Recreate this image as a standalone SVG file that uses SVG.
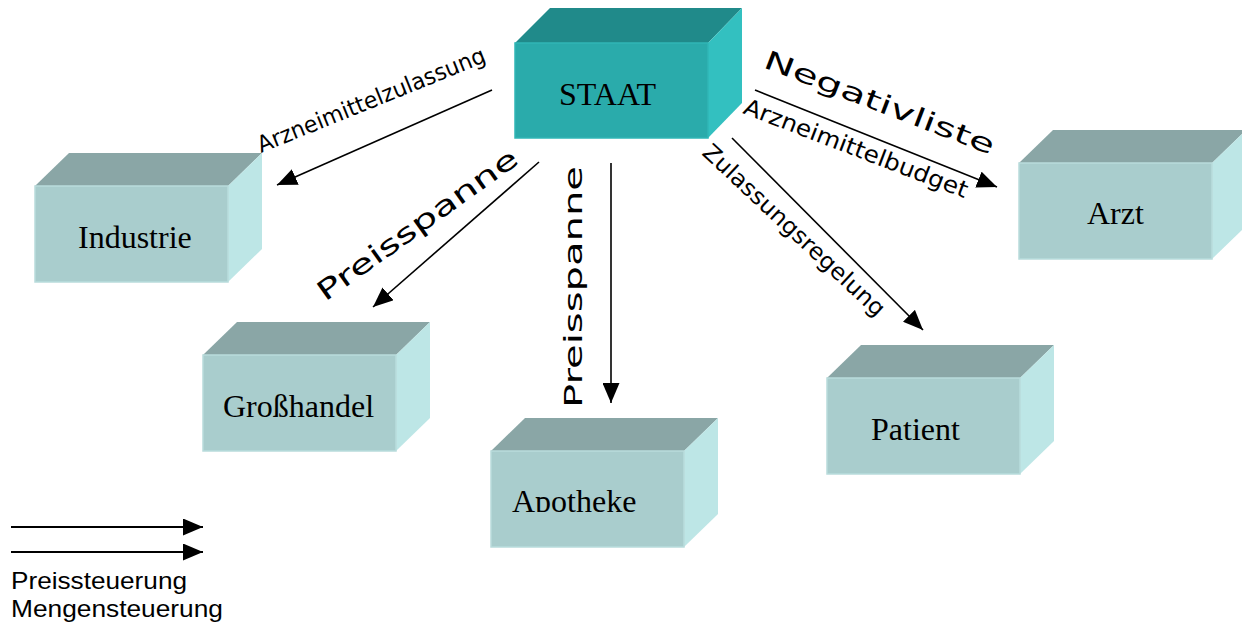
<svg xmlns="http://www.w3.org/2000/svg" width="1242" height="627" viewBox="0 0 1242 627">
  <style>
    .front { fill: #a9cdcd; stroke: #b9dcdc; stroke-width: 1.5; }
    .top { fill: #8aa6a6; }
    .side { fill: #bde6e6; }
    .state .front { fill: #2aabab; stroke: #30b6b6; }
    .state .top { fill: #208a8a; }
    .state .side { fill: #33c0c0; }
    .name { font-family: "Liberation Serif", "Times New Roman", serif; font-size: 32px; fill: #000; }
    .lbl { font-family: "DejaVu Sans", Verdana, sans-serif; fill: #000; }
    .legend { font-family: "Liberation Sans", Arial, sans-serif; font-size: 24px; fill: #000; }
    .conn line { stroke: #000; stroke-width: 1.6; fill: none; marker-end: url(#head); }
    .legline { stroke: #000; stroke-width: 2; marker-end: url(#head); }
  </style>
  <defs>
    <marker id="head" markerUnits="userSpaceOnUse" markerWidth="20" markerHeight="17" refX="20" refY="8.5" orient="auto">
      <path d="M0,0 L20,8.5 L0,17 z" fill="#000"/>
    </marker>
    <!-- shared box outline: front face, top face, right face -->
    <g id="box">
      <polygon class="top" points="0,0 34,-33 227,-33 193,0"/>
      <polygon class="side" points="193,0 227,-33 227,63 193,96"/>
      <rect class="front" x="0" y="0" width="193" height="96"/>
    </g>
    <clipPath id="apoClip">
      <rect x="0" y="0" width="193" height="61"/>
    </clipPath>
  </defs>

  <rect width="1242" height="627" fill="#fff"/>

  <!-- nodes -->
  <g id="staat" class="state" transform="translate(515,43)">
    <polygon class="top" points="0,0 35,-35 227,-35 193,0"/>
    <polygon class="side" points="193,0 227,-35 227,60 193,95"/>
    <rect class="front" x="0" y="0" width="193" height="95"/>
    <text class="name" x="44" y="62">STAAT</text>
  </g>

  <g id="industrie" transform="translate(35,186)">
    <use href="#box"/>
    <text class="name" x="43" y="62">Industrie</text>
  </g>

  <g id="arzt" transform="translate(1019,163)">
    <use href="#box"/>
    <text class="name" x="68" y="61">Arzt</text>
  </g>

  <g id="grosshandel" transform="translate(203,355)">
    <use href="#box"/>
    <text class="name" x="20" y="62">Großhandel</text>
  </g>

  <g id="apotheke" transform="translate(491,451)">
    <use href="#box"/>
    <text class="name" x="21" y="61" clip-path="url(#apoClip)">Apotheke</text>
  </g>

  <g id="patient" transform="translate(827,378)">
    <use href="#box"/>
    <text class="name" x="44" y="62">Patient</text>
  </g>

  <!-- connectors -->
  <g id="connectors" class="conn">
    <line x1="492" y1="90" x2="277" y2="185"/>
    <line x1="539" y1="162" x2="373" y2="307"/>
    <line x1="611" y1="163" x2="611" y2="403"/>
    <line x1="755" y1="90" x2="997" y2="187"/>
    <line x1="732" y1="138" x2="923" y2="330"/>
  </g>

  <!-- connector labels -->
  <g id="labels">
    <text class="lbl" font-size="23" transform="translate(261,153) rotate(-22)" textLength="244" lengthAdjust="spacingAndGlyphs">Arzneimittelzulassung</text>
    <text class="lbl" font-size="27" transform="translate(325,302) rotate(-35.5)" textLength="240" lengthAdjust="spacingAndGlyphs">Preisspanne</text>
    <text class="lbl" font-size="25" transform="translate(582,408) rotate(-90)" textLength="242" lengthAdjust="spacingAndGlyphs">Preisspanne</text>
    <text class="lbl" font-size="26" transform="translate(762,67) rotate(21)" textLength="245" lengthAdjust="spacingAndGlyphs">Negativliste</text>
    <text class="lbl" font-size="23" transform="translate(742,113) rotate(21)" textLength="238" lengthAdjust="spacingAndGlyphs">Arzneimittelbudget</text>
    <text class="lbl" font-size="23" transform="translate(701,154) rotate(43)" textLength="240" lengthAdjust="spacingAndGlyphs">Zulassungsregelung</text>
  </g>

  <!-- legend -->
  <g id="legend">
    <line class="legline" x1="11" y1="527" x2="203" y2="527"/>
    <line class="legline" x1="11" y1="552" x2="203" y2="552"/>
    <text class="legend" x="11" y="589" textLength="176" lengthAdjust="spacingAndGlyphs">Preissteuerung</text>
    <text class="legend" x="11" y="617" textLength="212" lengthAdjust="spacingAndGlyphs">Mengensteuerung</text>
  </g>
</svg>
